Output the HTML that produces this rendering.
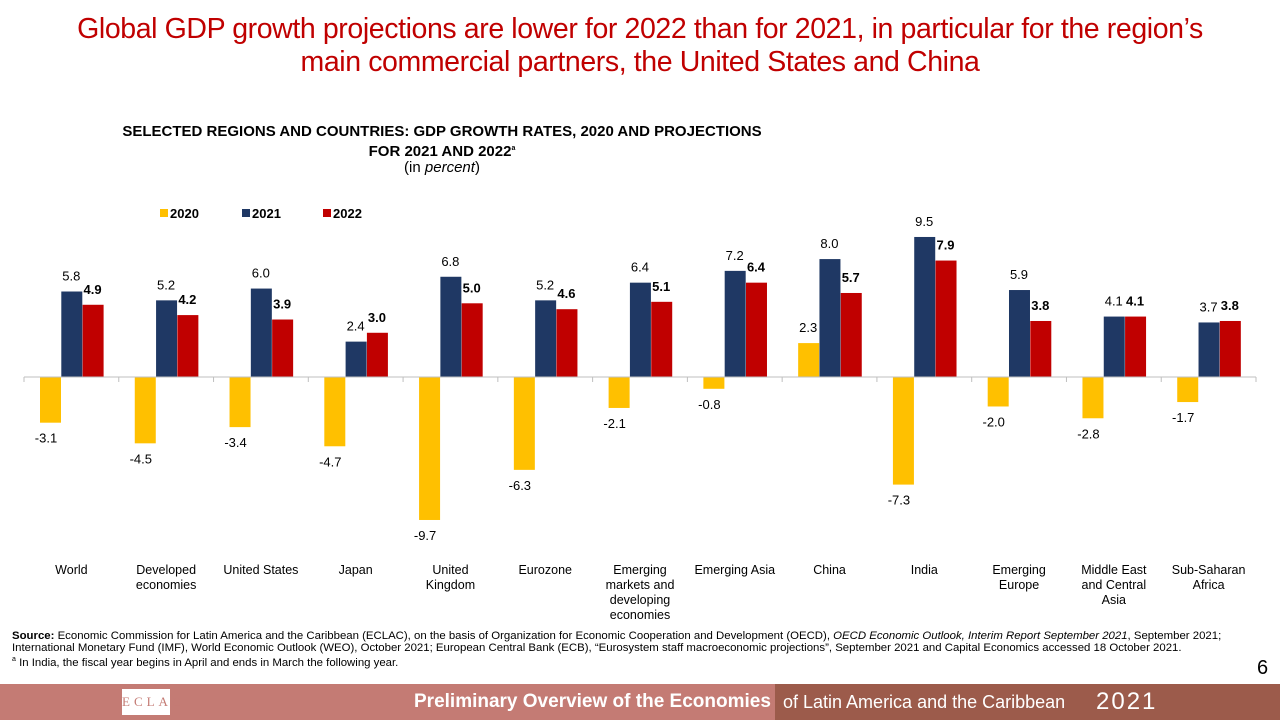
<!DOCTYPE html>
<html><head><meta charset="utf-8"><style>
body{margin:0;width:1280px;height:720px;background:#fff;position:relative;overflow:hidden;font-family:"Liberation Sans",Arial,sans-serif}
.abs{position:absolute}
#title{left:0;width:1280px;top:13px;text-align:center;color:#c00000;font-size:28.5px;line-height:33px;letter-spacing:-0.4px}
#ctitle{left:60px;width:764px;top:124px;text-align:center;font-weight:bold;font-size:15px;line-height:16.5px}
#src{left:12px;top:630px;font-size:11.4px;line-height:12.2px;color:#000;width:1260px;white-space:nowrap}
#foot{left:0;top:684px;width:1280px;height:36px}
</style></head><body>
<div id="title" class="abs">Global GDP growth projections are lower for 2022 than for 2021, in particular for the region’s<br>main commercial partners, the United States and China</div>
<div id="ctitle" class="abs">SELECTED REGIONS AND COUNTRIES: GDP GROWTH RATES, 2020 AND PROJECTIONS<br>FOR 2021 AND 2022<sup style="font-size:7px">a</sup><br><span style="font-weight:normal">(in <i>percent</i>)</span></div>
<svg class="abs" style="left:0;top:0" width="1280" height="630" id="chart"></svg>
<div id="src" class="abs"><b>Source:</b> Economic Commission for Latin America and the Caribbean (ECLAC), on the basis of Organization for Economic Cooperation and Development (OECD), <i>OECD Economic Outlook, Interim Report September 2021</i>, September 2021;<br>International Monetary Fund (IMF), World Economic Outlook (WEO), October 2021; European Central Bank (ECB), “Eurosystem staff macroeconomic projections”, September 2021 and Capital Economics accessed 18 October 2021.<br><sup style="font-size:7px">a</sup> In India, the fiscal year begins in April and ends in March the following year.</div>
<div class="abs" style="left:1257px;top:657px;font-size:20px">6</div>
<div id="foot" class="abs">
<div class="abs" style="left:0;top:0;width:775px;height:36px;background:#c47b74"></div>
<div class="abs" style="left:775px;top:0;width:505px;height:36px;background:#9c5b4b"></div>
<div class="abs" style="left:122px;top:5px;width:48px;height:26px;background:#fff;color:#c47b74;font-size:13px;letter-spacing:4px;text-align:center;line-height:26px;font-family:'Liberation Serif',serif">ECLAC</div>
<div class="abs" style="left:414px;top:7px;color:#fff;font-size:19px;font-weight:bold;white-space:nowrap">Preliminary Overview of the Economies</div>
<div class="abs" style="left:783px;top:8px;color:#fff;font-size:18px;white-space:nowrap">of Latin America and the Caribbean</div>
<div class="abs" style="left:1096px;top:4px;color:#fff;font-size:24px;font-weight:300;letter-spacing:2px">2021</div>
</div>
<script>
const categories=[["World"],["Developed","economies"],["United States"],["Japan"],["United","Kingdom"],["Eurozone"],["Emerging","markets and","developing","economies"],["Emerging Asia"],["China"],["India"],["Emerging","Europe"],["Middle East","and Central","Asia"],["Sub-Saharan","Africa"]];
const v2020=[-3.1,-4.5,-3.4,-4.7,-9.7,-6.3,-2.1,-0.8,2.3,-7.3,-2.0,-2.8,-1.7];
const v2021=[5.8,5.2,6.0,2.4,6.8,5.2,6.4,7.2,8.0,9.5,5.9,4.1,3.7];
const v2022=[4.9,4.2,3.9,3.0,5.0,4.6,5.1,6.4,5.7,7.9,3.8,4.1,3.8];
const seriesNames=["2020","2021","2022"];
const colors=["#ffc000","#1f3864","#c00000"];
const NS="http://www.w3.org/2000/svg";
const svg=document.getElementById('chart');
const x0=24,x1=1256,zeroY=377,k=14.74;
const gw=(x1-x0)/categories.length;
const y=v=>zeroY-v*k;
function mk(t,a,p){const e=document.createElementNS(NS,t);for(const q in a)e.setAttribute(q,a[q]);(p||svg).appendChild(e);return e;}
const series=[v2020,v2021,v2022];
categories.forEach((c,i)=>{
  const gx=x0+i*gw;
  series.forEach((s,j)=>{
    const v=s[i],bx=gx+16+j*21.3;
    const r=mk('rect',{x:bx,y:Math.min(y(v),zeroY),width:21,height:Math.abs(v)*k,fill:colors[j]});
    
    
    let tx,ty;
    if(v<0){tx=bx+6;ty=y(v)+20;}else{tx=bx+10;ty=y(v)-11;}
    const t=mk('text',{x:tx,y:ty,'text-anchor':'middle','font-size':'13','font-weight':j==2?'bold':'normal'});
    t.textContent=v.toFixed(1);
    
    
  });
  mk('line',{x1:gx,x2:gx,y1:zeroY,y2:zeroY+5,stroke:'#bfbfbf'});
  c.forEach((ln,l)=>{const t=mk('text',{x:gx+gw/2,y:574+l*15,'text-anchor':'middle','font-size':'12.5'});t.textContent=ln;
    
    });
});
mk('line',{x1:x1,x2:x1,y1:zeroY,y2:zeroY+5,stroke:'#bfbfbf'});
const ax=mk('line',{x1:x0,x2:x1,y1:zeroY,y2:zeroY,stroke:'#bfbfbf'});


const lx=[160,242,323];
seriesNames.forEach((n,j)=>{
  const g=mk('g',{});
  
  
  mk('rect',{x:lx[j],y:209,width:8,height:8,fill:colors[j]},g);
  const t=mk('text',{x:lx[j]+10,y:218,'font-size':'13','font-weight':'bold'},g);t.textContent=n;
});
</script>
</body></html>
